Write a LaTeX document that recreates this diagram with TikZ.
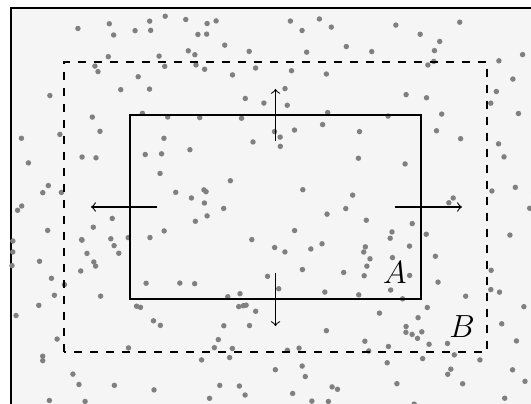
\documentclass[tikz,border=0pt]{standalone}
\usepackage{tikz}
\begin{document}
\begin{tikzpicture}[
    dot/.style={fill=black!50},
    push/.style={->, thin}
  ]
    \useasboundingbox (-3.632,-2.584) rectangle (3.368,2.729);

    % background field with scattered points
    \begin{scope}
        \clip (-3.632,-2.584) rectangle (3.368,2.729);
        \draw[fill=black!4, thick] (-3.487,-2.623) rectangle (3.487,2.623);
        \pgfmathsetseed{4213}
        \foreach \i in {1,...,250} {
            \pgfmathsetmacro{\px}{3.48*rand}
            \pgfmathsetmacro{\py}{2.60*rand}
            \fill[dot] (\px,\py) circle (0.036);
        }
    \end{scope}

    \draw[thick] (-1.918,-1.213) rectangle (1.918,1.213);
    \draw[thick, dashed] (-2.788,-1.911) rectangle (2.788,1.911);

    \coordinate (topIn) at (0,0.870);
    \coordinate (topOut) at (0,1.556);
    \coordinate (botIn) at (0,-0.870);
    \coordinate (botOut) at (0,-1.569);
    \coordinate (leftIn) at (-1.562,0);
    \coordinate (leftOut) at (-2.432,0);
    \coordinate (rightIn) at (1.575,0);
    \coordinate (rightOut) at (2.458,0);

    \draw[push] (topIn) -- (topOut);
    \draw[push] (botIn) -- (botOut);
    \draw[push] (leftIn) -- (leftOut);
    \draw[push] (rightIn) -- (rightOut);

    \node (setA) at (1.575,-0.870) {\large $A$};
    \node (setB) at (2.458,-1.575) {\large $B$};
\end{tikzpicture}
\end{document}
